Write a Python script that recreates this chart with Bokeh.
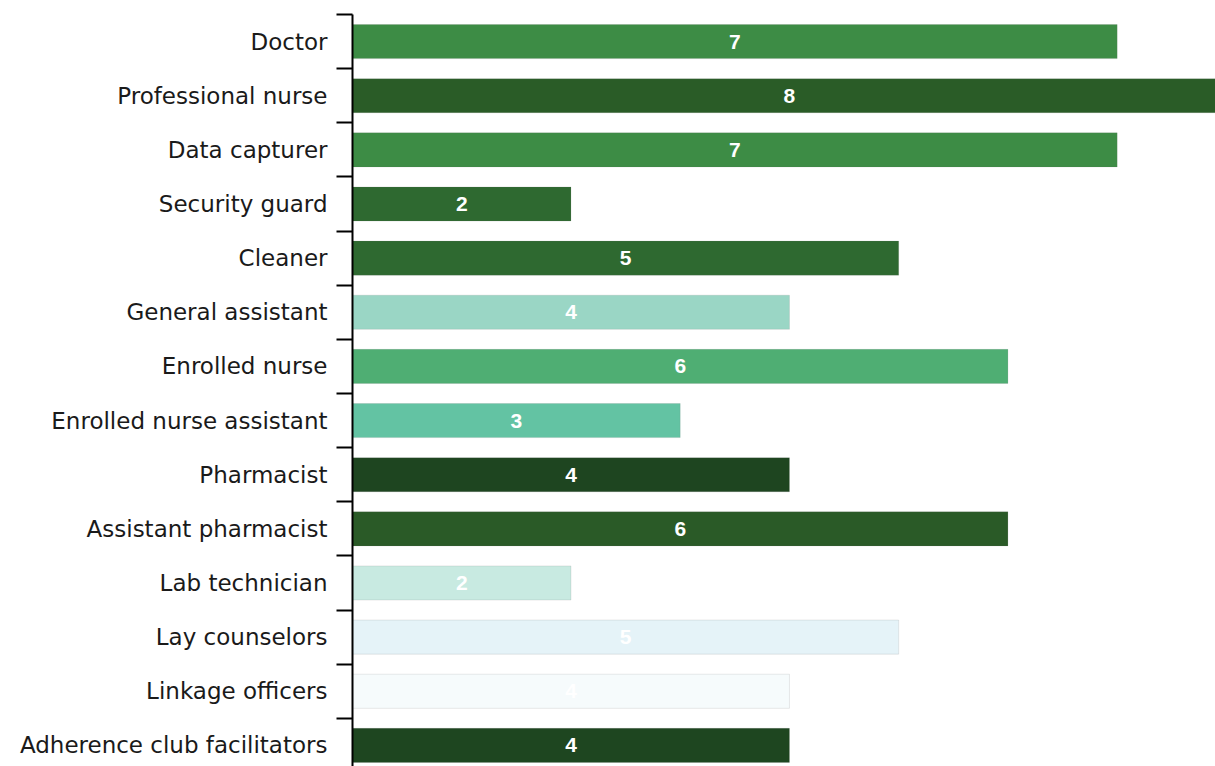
from bokeh.plotting import figure
from bokeh.models import Range1d, FixedTicker, ColumnDataSource
from bokeh.core.properties import value
from bokeh.embed import file_html
from bokeh.resources import INLINE

categories = ["Doctor", "Professional nurse", "Data capturer", "Security guard", "Cleaner",
              "General assistant", "Enrolled nurse", "Enrolled nurse assistant", "Pharmacist",
              "Assistant pharmacist", "Lab technician", "Lay counselors", "Linkage officers",
              "Adherence club facilitators"]
counts = [7, 8, 7, 2, 5, 4, 6, 3, 4, 6, 2, 5, 4, 4]
bar_colors = ["#3d8c45", "#2a5c27", "#3d8c45", "#2e6930", "#2e6930", "#9ad6c5", "#4fae73",
              "#63c3a3", "#1e4520", "#2a5a27", "#c8eae1", "#e5f3f8", "#f6fbfc", "#1e4620"]

n = len(categories)
pos = list(range(n))
src = ColumnDataSource(dict(
    y=pos, right=counts, mid=[c / 2 for c in counts],
    label=[str(c) for c in counts], color=bar_colors))

p = figure(width=1215, height=766, output_backend="svg", toolbar_location=None,
           x_range=Range1d(0, 7.9), y_range=Range1d(13.39, -0.5),
           x_axis_location=None, min_border_left=352, min_border_right=0,
           min_border_top=14, min_border_bottom=0)
p.outline_line_color = None
p.xgrid.visible = False
p.ygrid.visible = False
p.background_fill_color = "white"

p.hbar(y="y", left=0, right="right", height=0.63, fill_color="color",
       line_color="#6a6a6a", line_alpha=0.15, line_width=1, source=src)
p.text(x="mid", y="y", text="label", text_align="center", text_baseline="middle",
       text_color="white", text_font=value("Liberation Sans"), text_font_style="bold",
       text_font_size="21px", source=src)

ax = p.yaxis[0]
ax.ticker = FixedTicker(ticks=pos, minor_ticks=[i - 0.5 for i in range(n + 1)])
ax.major_label_overrides = {i: c for i, c in enumerate(categories)}
ax.major_tick_out = 0
ax.major_tick_in = 0
ax.minor_tick_out = 16
ax.minor_tick_in = 0
ax.minor_tick_line_color = "black"
ax.minor_tick_line_width = 2
ax.axis_line_color = "black"
ax.axis_line_width = 2
ax.major_label_standoff = 9
ax.major_label_text_font = "DejaVu Sans"
ax.major_label_text_font_size = "23px"
ax.major_label_text_color = "#1a1a1a"

open("out.html", "w").write(file_html(p, INLINE))
